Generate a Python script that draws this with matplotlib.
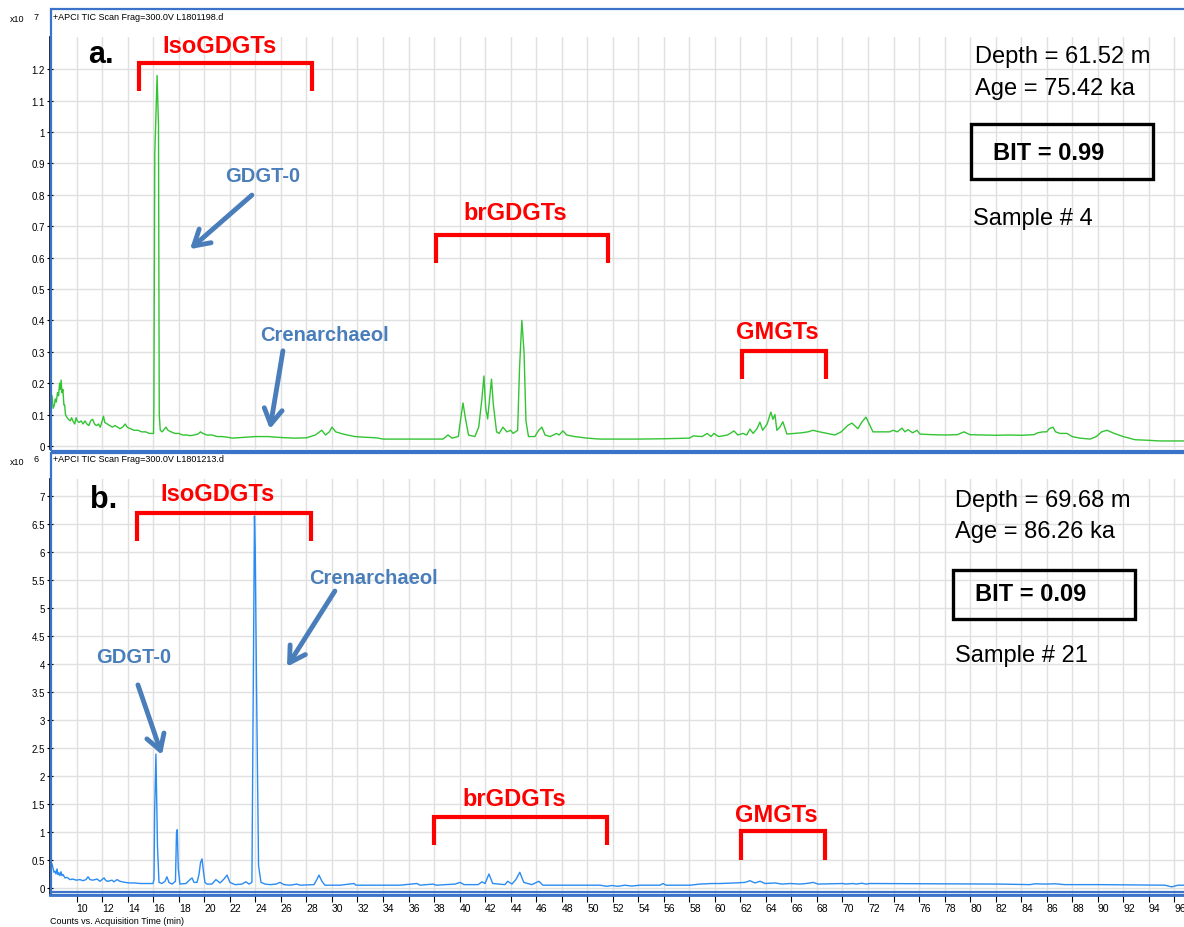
import matplotlib
matplotlib.use('Agg')
import matplotlib.pyplot as plt
from matplotlib.patches import Rectangle

plt.rcParams['font.family'] = ['Liberation Sans', 'DejaVu Sans']

# Chromatogramy TIC: czas retencji (min) i intensywność
# panel a: jednostki 10^7 zliczeń, panel b: jednostki 10^6 zliczeń
time_a = [8.07, 8.15, 8.25, 8.32, 8.40, 8.50, 8.58, 8.66, 8.72, 8.78, 8.85, 8.92, 9.00, 9.06,
          9.12, 9.25, 9.35, 9.50, 9.60, 9.70, 9.85, 9.95, 10.05, 10.20, 10.35, 10.50, 10.65,
          10.80, 10.95, 11.10, 11.25, 11.40, 11.55, 11.70, 11.85, 12.0, 12.1, 12.2, 12.4,
          12.6, 12.8, 13.0, 13.2, 13.4, 13.6, 13.8, 13.95, 14.2, 14.5, 14.8, 15.1, 15.4,
          15.7, 16.02, 16.05, 16.12, 16.30, 16.41, 16.47, 16.55, 16.7, 16.9, 17.0, 17.15,
          17.4, 17.7, 18.0, 18.3, 18.6, 18.9, 19.2, 19.5, 19.7, 19.9, 20.2, 20.6, 21.0, 21.4,
          21.8, 22.2, 24.0, 25.0, 26.0, 27.0, 28.0, 28.7, 29.2, 29.5, 29.8, 30.0, 30.3, 30.7,
          31.2, 31.8, 32.5, 33.5, 34.0, 38.7, 39.1, 39.4, 39.9, 40.1, 40.27, 40.45, 40.7,
          41.2, 41.5, 41.75, 41.91, 42.05, 42.2, 42.35, 42.5, 42.65, 42.9, 43.1, 43.4, 43.7,
          44.0, 44.2, 44.55, 44.7, 44.88, 45.05, 45.2, 45.4, 45.9, 46.2, 46.45, 46.7, 47.1,
          47.6, 47.8, 48.1, 48.4, 49.0, 50.0, 51.0, 52.0, 54.0, 56.0, 58.0, 58.3, 59.0, 59.4,
          59.7, 59.93, 60.3, 61.0, 61.5, 61.8, 62.2, 62.5, 62.75, 63.0, 63.3, 63.53, 63.75,
          64.1, 64.39, 64.55, 64.71, 64.86, 65.1, 65.33, 65.65, 66.2, 66.8, 67.3, 67.68,
          68.2, 68.8, 69.41, 69.9, 70.4, 70.74, 71.21, 71.5, 71.84, 72.1, 72.39, 73.0, 73.7,
          73.96, 74.3, 74.66, 74.9, 75.13, 75.5, 75.84, 76.07, 77.0, 78.0, 79.0, 79.52,
          79.99, 81.0, 82.0, 83.0, 84.0, 85.0, 85.3, 85.71, 86.0, 86.2, 86.49, 86.7, 87.04,
          87.59, 88.0, 88.6, 89.39, 89.9, 90.3, 90.73, 91.3, 92.0, 92.92, 94.0, 94.88, 96.76]
signal_a = [0.16, 0.12, 0.13, 0.15, 0.14, 0.17, 0.16, 0.20, 0.18, 0.21, 0.17, 0.18, 0.13, 0.13,
            0.10, 0.09, 0.085, 0.08, 0.09, 0.08, 0.07, 0.09, 0.08, 0.075, 0.08, 0.07, 0.08,
            0.07, 0.065, 0.08, 0.085, 0.07, 0.065, 0.07, 0.06, 0.08, 0.095, 0.075, 0.07,
            0.065, 0.06, 0.065, 0.06, 0.055, 0.06, 0.07, 0.06, 0.055, 0.05, 0.05, 0.045, 0.045,
            0.04, 0.04, 0.13, 0.93, 1.18, 1.02, 0.10, 0.05, 0.045, 0.055, 0.06, 0.05,
            0.045, 0.04, 0.04, 0.035, 0.035, 0.033, 0.035, 0.038, 0.045, 0.04, 0.035, 0.035,
            0.03, 0.03, 0.028, 0.025, 0.03, 0.03, 0.027, 0.025, 0.026, 0.035, 0.05, 0.035,
            0.045, 0.06, 0.045, 0.04, 0.035, 0.03, 0.028, 0.026, 0.022, 0.022, 0.035, 0.025,
            0.03, 0.09, 0.137, 0.09, 0.035, 0.03, 0.06, 0.15, 0.223, 0.12, 0.086, 0.15, 0.213,
            0.13, 0.045, 0.04, 0.06, 0.045, 0.05, 0.04, 0.05, 0.25, 0.40, 0.30, 0.08, 0.03,
            0.03, 0.05, 0.06, 0.035, 0.03, 0.04, 0.035, 0.048, 0.035, 0.03, 0.025, 0.022,
            0.022, 0.022, 0.023, 0.025, 0.032, 0.03, 0.04, 0.03, 0.04, 0.03, 0.035, 0.048,
            0.035, 0.04, 0.035, 0.054, 0.04, 0.055, 0.076, 0.05, 0.07, 0.108, 0.085, 0.10,
            0.05, 0.06, 0.077, 0.038, 0.04, 0.042, 0.045, 0.05, 0.045, 0.04, 0.035, 0.045,
            0.065, 0.073, 0.055, 0.075, 0.092, 0.07, 0.045, 0.045, 0.045, 0.05, 0.045, 0.057,
            0.045, 0.052, 0.042, 0.05, 0.038, 0.036, 0.035, 0.036, 0.045, 0.036, 0.035, 0.034,
            0.035, 0.034, 0.036, 0.042, 0.045, 0.045, 0.055, 0.06, 0.045, 0.04, 0.04, 0.03,
            0.025, 0.022, 0.03, 0.045, 0.05, 0.04, 0.03, 0.02, 0.018, 0.016, 0.016]

time_b = [8.07, 8.15, 8.22, 8.30, 8.38, 8.46, 8.54, 8.61, 8.69, 8.77, 8.85, 8.93, 9.08, 9.24,
          9.48, 9.71, 9.95, 10.26, 10.49, 10.73, 10.89, 11.04, 11.28, 11.59, 11.83, 12.14,
          12.30, 12.45, 12.77, 12.93, 13.16, 13.39, 13.78, 14.18, 14.57, 14.96, 15.98, 16.06,
          16.11, 16.21, 16.33, 16.45, 16.68, 16.92, 17.07, 17.23, 17.47, 17.74, 17.82, 17.88,
          17.96, 18.09, 18.56, 18.88, 19.04, 19.19, 19.43, 19.59, 19.70, 19.82, 19.94, 20.05,
          20.21, 20.60, 20.91, 21.23, 21.54, 21.78, 22.01, 22.40, 22.95, 23.26, 23.50, 23.73,
          23.83, 23.93, 23.99, 24.10, 24.25, 24.44, 24.76, 25.15, 25.62, 25.93, 26.24, 26.71,
          27.26, 27.49, 28.59, 28.82, 28.98, 29.22, 29.45, 30.63, 31.73, 31.88, 35.33, 36.66,
          36.9, 37.92, 38.16, 39.65, 40.04, 40.35, 41.45, 41.76, 42.0, 42.3, 42.6, 43.55,
          43.78, 44.1, 44.41, 44.72, 45.03, 45.66, 46.21, 46.53, 51.0, 51.54, 51.93, 52.4,
          52.95, 53.5, 54.13, 55.7, 55.94, 56.17, 58.05, 58.83, 59.77, 60.4, 61.58, 62.36,
          62.75, 63.15, 63.54, 63.93, 64.71, 65.26, 65.89, 66.67, 67.14, 67.46, 67.7, 68.09,
          70.05, 70.2, 70.83, 71.06, 71.53, 71.84, 72.15, 82.33, 84.68, 85.07, 85.86, 86.64,
          87.42, 90.17, 95.26, 95.8, 96.28, 96.76]
signal_b = [0.43, 0.35, 0.28, 0.30, 0.25, 0.34, 0.24, 0.27, 0.22, 0.29, 0.22, 0.24, 0.18, 0.19,
            0.15, 0.16, 0.14, 0.15, 0.13, 0.15, 0.20, 0.15, 0.14, 0.16, 0.12, 0.18,
            0.13, 0.12, 0.14, 0.11, 0.15, 0.12, 0.10, 0.09, 0.09, 0.08, 0.08, 0.15,
            1.37, 2.39, 0.75, 0.10, 0.08, 0.12, 0.20, 0.10, 0.07, 0.12, 0.98, 1.04,
            0.35, 0.07, 0.08, 0.15, 0.18, 0.10, 0.10, 0.25, 0.45, 0.52, 0.28, 0.10,
            0.07, 0.07, 0.15, 0.09, 0.16, 0.23, 0.10, 0.06, 0.07, 0.11, 0.07, 0.10,
            3.40, 6.64, 6.05, 3.43, 0.40, 0.10, 0.07, 0.06, 0.07, 0.10, 0.06, 0.05,
            0.07, 0.05, 0.06, 0.15, 0.23, 0.12, 0.05, 0.05, 0.08, 0.05, 0.05, 0.08,
            0.05, 0.07, 0.05, 0.07, 0.10, 0.06, 0.06, 0.11, 0.08, 0.25, 0.08, 0.06,
            0.12, 0.07, 0.15, 0.28, 0.10, 0.06, 0.12, 0.05, 0.05, 0.03, 0.045, 0.03,
            0.05, 0.035, 0.05, 0.05, 0.08, 0.05, 0.05, 0.07, 0.08, 0.08, 0.09, 0.10,
            0.13, 0.09, 0.12, 0.08, 0.09, 0.07, 0.08, 0.07, 0.08, 0.09, 0.10, 0.07,
            0.08, 0.07, 0.08, 0.07, 0.085, 0.07, 0.08, 0.07, 0.06, 0.075, 0.07, 0.075,
            0.06, 0.06, 0.05, 0.02, 0.05, 0.05]

x_ticks = list(range(10, 97, 2))
y_ticks_a = [0, 0.1, 0.2, 0.3, 0.4, 0.5, 0.6, 0.7, 0.8, 0.9, 1.0, 1.1, 1.2]
y_labels_a = ['0', '0.1', '0.2', '0.3', '0.4', '0.5', '0.6', '0.7', '0.8', '0.9', '1', '1.1', '1.2']
y_ticks_b = [0, 0.5, 1, 1.5, 2, 2.5, 3, 3.5, 4, 4.5, 5, 5.5, 6, 6.5, 7]
y_labels_b = ['0', '0.5', '1', '1.5', '2', '2.5', '3', '3.5', '4', '4.5', '5', '5.5', '6', '6.5', '7']

titles = ['+APCI TIC Scan Frag=300.0V L1801198.d', '+APCI TIC Scan Frag=300.0V L1801213.d']
depths = ['Depth = 61.52 m', 'Depth = 69.68 m']
ages = ['Age = 75.42 ka', 'Age = 86.26 ka']
bits = ['BIT = 0.99', 'BIT = 0.09']
samples = ['Sample # 4', 'Sample # 21']

RED = '#ff0000'
STEEL = '#4a7ebb'
FRAME = '#3b73c8'
GRID = '#e0e0e0'


def px(x, y):
    return x / 1184, 1 - y / 928


fig = plt.figure(figsize=(11.84, 9.28), dpi=100)

x0, y_top = px(50, 38)
_, y_bot = px(50, 450)
ax1 = fig.add_axes([x0, y_bot, 1 - x0, y_top - y_bot])
_, y_top = px(50, 480)
_, y_bot = px(50, 896)
ax2 = fig.add_axes([x0, y_bot, 1 - x0, y_top - y_bot])

ax1.plot(time_a, signal_a, color='#33c433', lw=1.0)
ax2.plot(time_b, signal_b, color='#2a8cf2', lw=1.0)

ax1.set_ylim(-0.0096, 1.3025)
ax2.set_ylim(-0.125, 7.30)
ax1.set_yticks(y_ticks_a, y_labels_a)
ax2.set_yticks(y_ticks_b, y_labels_b)

for ax in (ax1, ax2):
    ax.set_xlim(7.91, 96.76)
    ax.set_xticks(x_ticks)
    ax.grid(True, color=GRID, lw=1)
    ax.set_axisbelow(True)
    for s in ('top', 'right'):
        ax.spines[s].set_visible(False)
    ax.spines['left'].set_color('black')
    ax.spines['left'].set_linewidth(1.2)
    ax.tick_params(axis='y', direction='inout', length=5, labelsize=7, pad=1)

ax1.spines['bottom'].set_visible(False)
ax1.tick_params(axis='x', length=0, labelbottom=False)
ax2.spines['bottom'].set_color(FRAME)
ax2.spines['bottom'].set_linewidth(2)
ax2.tick_params(axis='x', direction='out', length=5, labelsize=7.5, pad=1)
for lab in ax2.get_xticklabels():
    lab.set_ha('left')

# niebieskie ramki paneli
for top, bottom in ((10, 452), (454, 896)):
    xa, ya = px(51, bottom)
    _, yb = px(51, top)
    fig.patches.append(Rectangle((xa, ya), 1.0, yb - ya, transform=fig.transFigure,
                                 fill=False, edgecolor=FRAME, lw=1.6))
fig.add_artist(plt.Line2D([px(51, 0)[0], 1], [px(0, 893)[1]] * 2, color=FRAME, lw=1.6,
                          transform=fig.transFigure))

for title, ty, exp in ((titles[0], 17, '7'), (titles[1], 460, '6')):
    fig.text(*px(53, ty), title, fontsize=6.5, va='center')
    fig.text(*px(10, ty + 3), 'x10', fontsize=6.5, va='center')
    fig.text(*px(34, ty), exp, fontsize=6.5, va='center')

fig.text(*px(50, 922), 'Counts vs. Acquisition Time (min)', fontsize=6.5, va='center')


def bracket(ax, t0, t1, y, y_leg, label, ly):
    ax.plot([t0, t0, t1, t1], [y_leg, y, y, y_leg], color=RED, lw=3, solid_joinstyle='miter',
            solid_capstyle='butt', clip_on=False)
    ax.text((t0 + t1) / 2 - 0.5, ly, label, color=RED, fontsize=17, fontweight='bold',
            ha='center', va='center')


def arrow(ax, start, end):
    ax.annotate('', xy=end, xytext=start,
                arrowprops=dict(arrowstyle='->,head_length=1.1,head_width=0.65', color=STEEL,
                                lw=3.5, shrinkA=0, shrinkB=0))


# panel a
ax1.text(10.89, 1.248, 'a.', fontsize=22, fontweight='bold', va='center')
bracket(ax1, 14.89, 28.44, 1.22, 1.13, 'IsoGDGTs', 1.277)
bracket(ax1, 38.15, 51.62, 0.672, 0.583, 'brGDGTs', 0.745)
bracket(ax1, 62.12, 68.69, 0.3025, 0.213, 'GMGTs', 0.366)
ax1.text(24.6, 0.863, 'GDGT-0', color=STEEL, fontsize=14.5, fontweight='bold', ha='center', va='center')
arrow(ax1, (23.73, 0.799), (18.88, 0.627))
ax1.text(29.39, 0.354, 'Crenarchaeol', color=STEEL, fontsize=14.5, fontweight='bold', ha='center', va='center')
arrow(ax1, (26.16, 0.303), (25.14, 0.054))
ax1.text(80.37, 1.242, depths[0], fontsize=17, va='center')
ax1.text(80.37, 1.140, ages[0], fontsize=17, va='center')
ax1.add_patch(Rectangle((80.06, 0.850), 94.32 - 80.06, 1.025 - 0.850, fill=False,
                        edgecolor='black', lw=2.4))
ax1.text(81.79, 0.936, bits[0], fontsize=17, fontweight='bold', va='center')
ax1.text(80.21, 0.726, samples[0], fontsize=17, va='center')

# panel b
ax2.text(11.04, 6.95, 'b.', fontsize=22, fontweight='bold', va='center')
bracket(ax2, 14.72, 28.35, 6.70, 6.20, 'IsoGDGTs', 7.04)
bracket(ax2, 38.0, 51.55, 1.27, 0.77, 'brGDGTs', 1.59)
bracket(ax2, 62.04, 68.62, 1.02, 0.50, 'GMGTs', 1.32)
ax2.text(14.49, 4.125, 'GDGT-0', color=STEEL, fontsize=14.5, fontweight='bold', ha='center', va='center')
arrow(ax2, (14.80, 3.625), (16.68, 2.375))
ax2.text(33.23, 5.55, 'Crenarchaeol', color=STEEL, fontsize=14.5, fontweight='bold', ha='center', va='center')
arrow(ax2, (30.23, 5.30), (26.48, 3.95))
ax2.text(78.81, 6.93, depths[1], fontsize=17, va='center')
ax2.text(78.81, 6.375, ages[1], fontsize=17, va='center')
ax2.add_patch(Rectangle((78.65, 4.80), 92.91 - 78.65, 5.68 - 4.80, fill=False,
                        edgecolor='black', lw=2.4))
ax2.text(80.37, 5.25, bits[1], fontsize=17, fontweight='bold', va='center')
ax2.text(78.81, 4.16, samples[1], fontsize=17, va='center')

fig.savefig('out.png', dpi=100)
